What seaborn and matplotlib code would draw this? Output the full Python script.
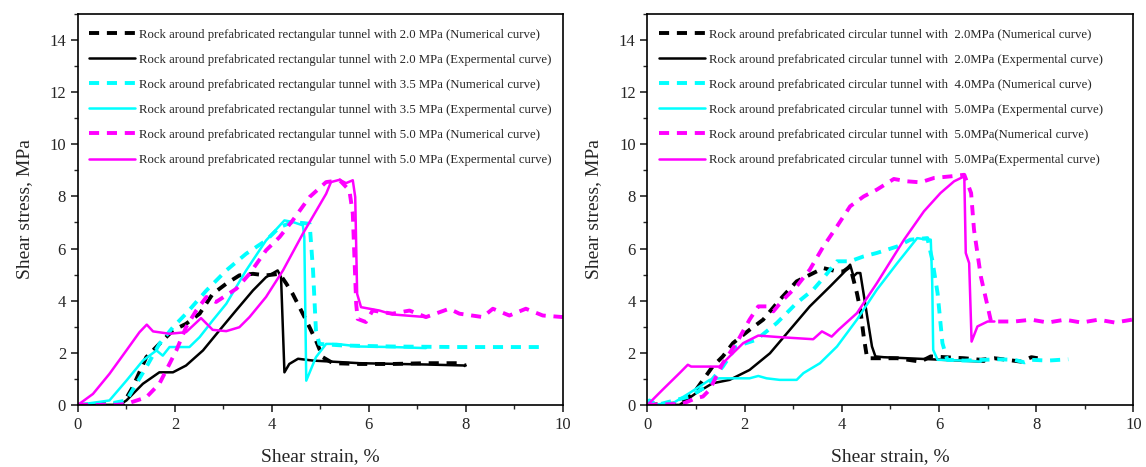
import numpy as np
import pandas as pd
import matplotlib
matplotlib.use("Agg")
import matplotlib.pyplot as plt
import seaborn as sns
from matplotlib.ticker import MultipleLocator

sns.set_theme(style="white")
plt.rcParams['font.family'] = ['Liberation Serif', 'DejaVu Serif']
plt.rcParams['mathtext.fontset'] = 'stix'

# ---------------- Left panel: rectangular tunnel ----------------
L_labels = [
    "Rock around prefabricated rectangular tunnel with 2.0 MPa (Numerical curve)",
    "Rock around prefabricated rectangular tunnel with 2.0 MPa (Expermental curve)",
    "Rock around prefabricated rectangular tunnel with 3.5 MPa (Numerical curve)",
    "Rock around prefabricated rectangular tunnel with 3.5 MPa (Expermental curve)",
    "Rock around prefabricated rectangular tunnel with 5.0 MPa (Numerical curve)",
    "Rock around prefabricated rectangular tunnel with 5.0 MPa (Expermental curve)",
]

L_k_num_x = [0, 0.93, 1.13, 1.41, 1.68, 1.96, 2.23, 2.51, 2.78, 3.06, 3.33, 3.61, 3.88, 4.16, 4.30, 4.43, 4.71, 4.91, 5.05, 5.26, 5.81, 6.49, 7.18, 7.87, 8.0]
L_k_num_y = [0, 0.04, 0.68, 1.83, 2.34, 2.86, 3.11, 3.50, 4.26, 4.65, 4.97, 5.03, 4.97, 5.03, 4.65, 4.26, 3.24, 2.47, 1.83, 1.60, 1.57, 1.57, 1.60, 1.60, 1.51]

L_k_exp_x = [0, 0.86, 1.0, 1.34, 1.68, 1.96, 2.23, 2.58, 2.92, 3.26, 3.61, 3.88, 4.12, 4.19, 4.26, 4.36, 4.54, 4.85, 5.81, 7.18, 8.0]
L_k_exp_y = [0, 0, 0.17, 0.81, 1.25, 1.25, 1.51, 2.09, 2.86, 3.62, 4.39, 4.90, 5.16, 4.90, 1.25, 1.57, 1.77, 1.70, 1.60, 1.55, 1.51]

L_c_num_x = [0, 0.52, 1.0, 1.41, 1.68, 1.96, 2.23, 2.65, 3.06, 3.47, 3.88, 4.16, 4.43, 4.78, 4.85, 4.91, 4.98, 5.46, 6.49, 7.87, 9.52]
L_c_num_y = [0, 0, 0.17, 1.45, 2.34, 2.98, 3.50, 4.39, 5.16, 5.80, 6.31, 6.82, 7.02, 6.95, 5.16, 2.86, 2.34, 2.28, 2.24, 2.22, 2.22]

L_c_exp_x = [0, 0.65, 1.0, 1.34, 1.62, 1.75, 1.89, 2.10, 2.30, 2.51, 2.78, 3.06, 3.47, 3.88, 4.26, 4.43, 4.64, 4.67, 4.71, 4.91, 5.12, 5.33, 5.81, 6.49, 7.18]
L_c_exp_y = [0, 0.17, 0.93, 1.70, 2.09, 1.89, 2.22, 2.22, 2.22, 2.60, 3.24, 3.88, 5.16, 6.31, 7.08, 7.02, 6.89, 6.44, 0.93, 1.83, 2.34, 2.34, 2.24, 2.22, 2.18]

L_m_num_x = [0, 0.8, 1.0, 1.41, 1.68, 2.03, 2.23, 2.44, 2.65, 2.85, 3.27, 3.54, 3.88, 4.16, 4.43, 4.78, 5.12, 5.40, 5.60, 5.67, 5.74, 5.77, 5.94, 6.08, 6.49, 6.84, 7.18, 7.66, 7.87, 8.35, 8.56, 8.90, 9.24, 9.59, 10.0]
L_m_num_y = [0, 0, 0.04, 0.29, 0.81, 2.09, 2.98, 3.62, 4.14, 3.95, 4.46, 5.03, 5.93, 6.44, 7.08, 7.98, 8.55, 8.62, 8.23, 7.34, 3.88, 3.30, 3.18, 3.62, 3.50, 3.62, 3.37, 3.69, 3.50, 3.37, 3.69, 3.43, 3.69, 3.43, 3.37]

L_m_exp_x = [0, 0.31, 0.65, 1.0, 1.27, 1.42, 1.55, 1.89, 2.23, 2.54, 2.78, 3.06, 3.33, 3.54, 3.88, 4.23, 4.64, 5.12, 5.22, 5.40, 5.53, 5.67, 5.72, 5.76, 5.84, 6.22, 6.49, 7.18]
L_m_exp_y = [0, 0.42, 1.19, 2.09, 2.79, 3.08, 2.82, 2.73, 2.79, 3.33, 2.88, 2.83, 2.98, 3.37, 4.14, 5.16, 6.57, 8.10, 8.55, 8.64, 8.51, 8.62, 7.98, 4.26, 3.75, 3.62, 3.47, 3.37]

# ---------------- Right panel: circular tunnel ----------------
R_labels = [
    "Rock around prefabricated circular tunnel with  2.0MPa (Numerical curve)",
    "Rock around prefabricated circular tunnel with  2.0MPa (Expermental curve)",
    "Rock around prefabricated circular tunnel with  4.0MPa (Numerical curve)",
    "Rock around prefabricated circular tunnel with  5.0MPa (Expermental curve)",
    "Rock around prefabricated circular tunnel with  5.0MPa(Numerical curve)",
    "Rock around prefabricated circular tunnel with  5.0MPa(Expermental curve)",
]

R_k_num_x = [0, 0.66, 1.0, 1.34, 1.55, 1.76, 2.10, 2.38, 2.72, 3.07, 3.34, 3.62, 3.90, 4.03, 4.17, 4.31, 4.38, 4.45, 4.52, 5.14, 5.62, 5.83, 6.52, 6.86, 7.14, 7.69, 7.90, 8.03]
R_k_num_y = [0, 0.06, 0.58, 1.47, 1.86, 2.37, 2.88, 3.27, 4.03, 4.74, 4.99, 5.25, 5.12, 5.12, 5.31, 4.29, 3.65, 2.62, 1.79, 1.79, 1.66, 1.86, 1.79, 1.73, 1.79, 1.66, 1.83, 1.79]

R_k_exp_x = [0, 0.66, 1.0, 1.34, 1.69, 2.10, 2.52, 2.93, 3.34, 3.76, 4.03, 4.17, 4.24, 4.31, 4.38, 4.62, 4.69, 4.86, 5.83, 6.93]
R_k_exp_y = [0, 0, 0.45, 0.83, 0.96, 1.34, 1.98, 2.88, 3.78, 4.55, 5.06, 5.38, 4.93, 5.06, 5.06, 2.24, 1.86, 1.83, 1.75, 1.66]

R_c_num_x = [0, 0.04, 0.2, 0.86, 1.21, 1.55, 1.83, 2.03, 2.24, 2.66, 3.07, 3.41, 3.62, 3.90, 4.17, 4.45, 4.72, 5.14, 5.41, 5.76, 5.86, 5.97, 6.07, 6.17, 6.52, 7.21, 7.55, 7.76, 7.90, 8.24, 8.66]
R_c_num_y = [0, 0.17, 0, 0.32, 0.70, 1.47, 2.24, 2.37, 2.50, 3.14, 3.91, 4.42, 4.87, 5.51, 5.51, 5.70, 5.83, 6.08, 6.34, 6.40, 5.57, 4.29, 2.37, 1.73, 1.70, 1.75, 1.73, 1.63, 1.73, 1.70, 1.75]

R_c_exp_x = [0, 0.52, 0.86, 1.28, 1.48, 2.10, 2.28, 2.45, 2.72, 3.07, 3.21, 3.55, 3.90, 4.31, 4.72, 5.14, 5.55, 5.69, 5.83, 5.86, 5.88, 5.97, 6.52, 6.86]
R_c_exp_y = [0, 0.06, 0.45, 0.96, 1.02, 1.02, 1.11, 1.02, 0.96, 0.96, 1.22, 1.60, 2.24, 3.27, 4.42, 5.44, 6.40, 6.36, 6.34, 4.67, 2.11, 1.73, 1.70, 1.66]

R_m_num_x = [0, 0.72, 1.0, 1.14, 1.28, 1.55, 1.83, 2.10, 2.28, 2.45, 2.59, 2.79, 3.07, 3.34, 3.62, 3.90, 4.17, 4.45, 4.72, 5.07, 5.34, 5.62, 5.90, 6.24, 6.52, 6.66, 6.72, 6.86, 7.0, 7.07, 7.55, 7.90, 8.24, 8.59, 8.93, 9.28, 9.62, 9.97]
R_m_num_y = [0, 0.04, 0.26, 0.32, 0.58, 1.60, 2.37, 3.27, 3.78, 3.78, 3.59, 4.03, 4.55, 5.19, 6.08, 6.85, 7.62, 8.0, 8.26, 8.67, 8.58, 8.54, 8.71, 8.77, 8.83, 8.13, 6.72, 4.93, 3.78, 3.20, 3.20, 3.27, 3.16, 3.27, 3.16, 3.27, 3.16, 3.27]

R_m_exp_x = [0, 0.31, 0.66, 0.83, 0.90, 1.48, 1.69, 1.97, 2.28, 2.72, 3.41, 3.59, 3.79, 3.93, 4.31, 4.72, 5.28, 5.69, 6.03, 6.31, 6.52, 6.55, 6.62, 6.67, 6.79, 7.0, 7.14]
R_m_exp_y = [0, 0.58, 1.22, 1.54, 1.47, 1.47, 1.86, 2.37, 2.66, 2.60, 2.52, 2.82, 2.62, 2.88, 3.52, 4.67, 6.34, 7.43, 8.13, 8.58, 8.77, 5.83, 5.44, 2.43, 3.01, 3.20, 3.20]

X_TICKS = [0, 2, 4, 6, 8, 10]
Y_TICKS = [0, 2, 4, 6, 8, 10, 12, 14]

BLACK, CYAN, MAGENTA = "#000000", "#00FFFF", "#FF00FF"

left_series = [
    (L_k_num_x, L_k_num_y, BLACK, True),
    (L_k_exp_x, L_k_exp_y, BLACK, False),
    (L_c_num_x, L_c_num_y, CYAN, True),
    (L_c_exp_x, L_c_exp_y, CYAN, False),
    (L_m_num_x, L_m_num_y, MAGENTA, True),
    (L_m_exp_x, L_m_exp_y, MAGENTA, False),
]
right_series = [
    (R_k_num_x, R_k_num_y, BLACK, True),
    (R_k_exp_x, R_k_exp_y, BLACK, False),
    (R_c_num_x, R_c_num_y, CYAN, True),
    (R_c_exp_x, R_c_exp_y, CYAN, False),
    (R_m_num_x, R_m_num_y, MAGENTA, True),
    (R_m_exp_x, R_m_exp_y, MAGENTA, False),
]

fig = plt.figure(figsize=(11.46, 4.67), dpi=100)
ax1 = fig.add_axes([0.068, 0.133, 0.423, 0.837])
ax2 = fig.add_axes([0.565, 0.133, 0.424, 0.837])

def draw(ax, series, labels):
    for (xs, ys, col, dashed), lab in zip(series, labels):
        df = pd.DataFrame({"x": xs, "y": ys})
        if dashed:
            sns.lineplot(data=df, x="x", y="y", ax=ax, color=col, sort=False,
                         estimator=None, linewidth=2.8, label=lab,
                         dashes=False, linestyle=(0, (2.6, 2.0)))
        else:
            sns.lineplot(data=df, x="x", y="y", ax=ax, color=col, sort=False,
                         estimator=None, linewidth=1.8, label=lab)
    ax.set_xlim(0, 10)
    ax.set_ylim(0, 15)
    ax.set_xticks(X_TICKS)
    ax.set_yticks(Y_TICKS)
    ax.xaxis.set_minor_locator(MultipleLocator(1))
    ax.yaxis.set_minor_locator(MultipleLocator(1))
    ax.tick_params(which="major", direction="out", length=5, width=1.2,
                   labelsize=12, bottom=True, left=True, top=False, right=False)
    ax.tick_params(which="minor", direction="out", length=3, width=1.0,
                   bottom=True, left=True, top=False, right=False)
    for s in ax.spines.values():
        s.set_color("black")
        s.set_linewidth(1.2)
    ax.set_xlabel("Shear strain, %", fontsize=14, labelpad=11)
    ax.set_ylabel("Shear stress, MPa", fontsize=14, labelpad=12)
    ax.legend(loc="upper left", frameon=False, fontsize=9.2,
              handlelength=3.6, handletextpad=0.3, labelspacing=1.02,
              borderaxespad=0.3, bbox_to_anchor=(0.005, 0.985))

draw(ax1, left_series, L_labels)
draw(ax2, right_series, R_labels)

fig.savefig("out.png", dpi=100)
